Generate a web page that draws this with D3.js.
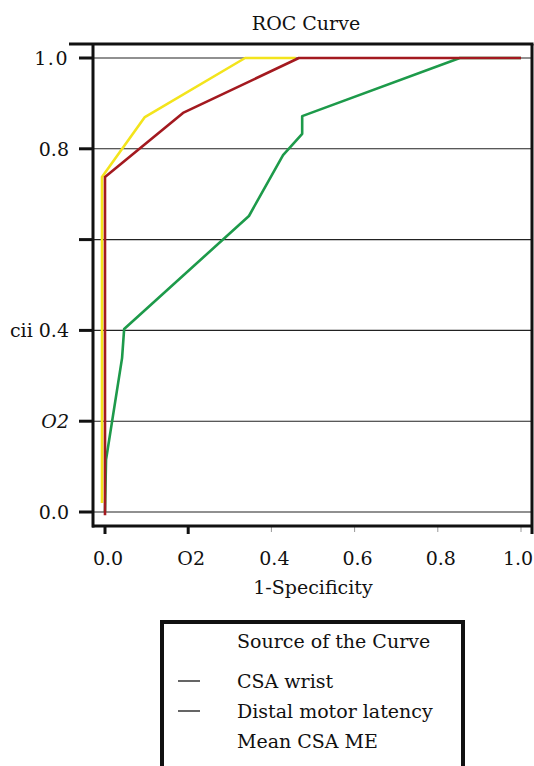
<!DOCTYPE html>
<html>
<head>
<meta charset="utf-8">
<script src="https://cdn.jsdelivr.net/npm/d3@7"></script>
<style>
  body { margin: 0; background: #fff; }
  text { font-family: "DejaVu Serif", "Liberation Serif", serif; fill: #111; }
</style>
</head>
<body>
<svg id="chart" width="534" height="766"></svg>
<script>
// ROC points, [1-specificity, sensitivity]
const csaWrist = [[0, 0.02], [0, 0.738], [0.103, 0.87], [0.344, 1.0], [0.466, 1.0]];
const distalMotorLatency = [[0, -0.007], [0, 0.738], [0.1875, 0.879], [0.466, 1.0], [1.0, 1.0]];
const meanCsaMe = [[0, 0], [0.0025, 0.115], [0.041, 0.339], [0.046, 0.403], [0.346, 0.652],
                   [0.428, 0.786], [0.474, 0.833], [0.474, 0.872], [0.853, 1.0], [1.0, 1.0]];

const seriesNames = ["CSA wrist", "Distal motor latency", "Mean CSA ME"];
const seriesColors = ["#f3e41c", "#a3191f", "#1d9a4a"];

const yTicks = [0, 0.2, 0.4, 0.6, 0.8, 1.0];
const yTickLabels = ["0.0", "O2", "cii 0.4", "", "0.8", "1.0"];
const xTicks = [0, 0.2, 0.4, 0.6, 0.8, 1.0];
const xTickLabels = ["0.0", "O2", "0.4", "0.6", "0.8", "1.0"];

const svg = d3.select("#chart");

let x = d3.scaleLinear().domain([0, 1]).range([105, 521]);
let y = d3.scaleLinear().domain([0, 1]).range([512, 58]);

const frame = { left: 93, top: 44, right: 532, bottom: 526 };

// gridlines
svg.append("g")
    .selectAll("line")
    .data(yTicks)
    .enter().append("line")
    .attr("x1", frame.left)
    .attr("x2", frame.right)
    .attr("y1", d => y(d))
    .attr("y2", d => y(d))
    .style("stroke", "#222")
    .style("stroke-width", 1.1);

// y ticks + labels
let yAxis = svg.append("g");
yAxis.selectAll("line")
    .data(yTicks)
    .enter().append("line")
    .attr("x1", 79)
    .attr("x2", frame.left)
    .attr("y1", d => y(d))
    .attr("y2", d => y(d))
    .style("stroke", "#111")
    .style("stroke-width", 3);

yAxis.selectAll("text")
    .data(yTicks)
    .enter().append("text")
    .attr("x", 69)
    .attr("y", d => y(d))
    .attr("dy", "0.36em")
    .attr("text-anchor", "end")
    .style("font-size", "19px")
    .style("font-style", (_, i) => yTickLabels[i] == "O2" ? "italic" : "normal")
    .style("letter-spacing", (_, i) => yTickLabels[i] == "1.0" ? "1.5px" : "0px")
    .text((_, i) => yTickLabels[i]);

// x ticks + labels
let xAxis = svg.append("g");
xAxis.selectAll("line")
    .data(xTicks)
    .enter().append("line")
    .attr("x1", d => x(d))
    .attr("x2", d => x(d))
    .attr("y1", frame.bottom)
    .attr("y2", (_, i) => i < 2 ? frame.bottom + 8 : frame.bottom + 6)
    .style("stroke", (_, i) => i < 2 ? "#111" : "#999")
    .style("stroke-width", (_, i) => i < 2 ? 3 : 1);

xAxis.selectAll("text")
    .data(xTicks)
    .enter().append("text")
    .attr("x", d => Math.min(x(d) + 3, 518))
    .attr("y", 565)
    .attr("text-anchor", "middle")
    .style("font-size", "19px")
    .text((_, i) => xTickLabels[i]);

// frame
svg.append("line").attr("x1", 69).attr("x2", frame.right + 1.5).attr("y1", frame.top).attr("y2", frame.top)
    .style("stroke", "#111").style("stroke-width", 3);
svg.append("line").attr("x1", frame.left).attr("x2", frame.left).attr("y1", frame.top).attr("y2", frame.bottom + 1.5)
    .style("stroke", "#111").style("stroke-width", 3);
svg.append("line").attr("x1", frame.right).attr("x2", frame.right).attr("y1", frame.top).attr("y2", frame.bottom + 8)
    .style("stroke", "#111").style("stroke-width", 3);
svg.append("line").attr("x1", frame.left - 1).attr("x2", frame.right).attr("y1", frame.bottom).attr("y2", frame.bottom)
    .style("stroke", "#111").style("stroke-width", 3);

// curves
let line = d3.line().x(d => x(d[0])).y(d => y(d[1]));
const drawOrder = [2, 0, 1];
const allSeries = [csaWrist, distalMotorLatency, meanCsaMe];
drawOrder.forEach(i => {
    svg.append("path")
        .datum(allSeries[i])
        .attr("d", line)
        .attr("transform", i == 0 ? "translate(-3,0)" : null)
        .style("fill", "none")
        .style("stroke", seriesColors[i])
        .style("stroke-width", 2.6)
        .style("stroke-linejoin", "round");
});

// titles
svg.append("text")
    .attr("x", 306)
    .attr("y", 30)
    .attr("text-anchor", "middle")
    .style("font-size", "19px")
    .text("ROC Curve");

svg.append("text")
    .attr("x", 313)
    .attr("y", 594)
    .attr("text-anchor", "middle")
    .style("font-size", "19px")
    .text("1-Specificity");

// legend
let legend = svg.append("g");
legend.append("rect")
    .attr("x", 162)
    .attr("y", 622)
    .attr("width", 301)
    .attr("height", 170)
    .style("fill", "#fff")
    .style("stroke", "#111")
    .style("stroke-width", 4);

legend.append("text")
    .attr("x", 237)
    .attr("y", 648)
    .style("font-size", "19px")
    .text("Source of the Curve");

legend.selectAll("text.item")
    .data(seriesNames)
    .enter().append("text")
    .attr("class", "item")
    .attr("x", 237)
    .attr("y", (_, i) => 688 + i * 30)
    .style("font-size", "19px")
    .text(d => d);

legend.selectAll("line.key")
    .data(seriesNames.slice(0, 2))
    .enter().append("line")
    .attr("class", "key")
    .attr("x1", 178)
    .attr("x2", 200)
    .attr("y1", (_, i) => 681 + i * 30)
    .attr("y2", (_, i) => 681 + i * 30)
    .style("stroke", "#111")
    .style("stroke-width", 1.3);
</script>
</body>
</html>
